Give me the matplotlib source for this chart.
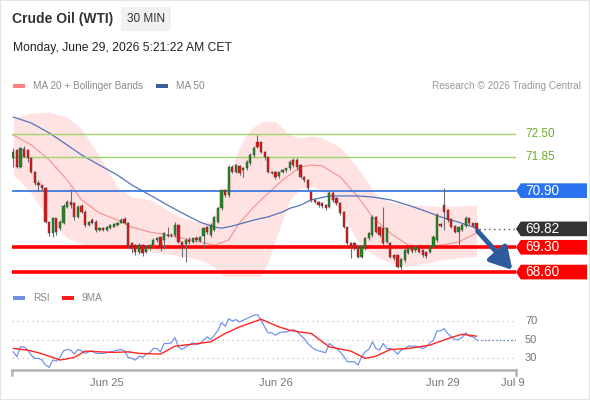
import numpy as np
import matplotlib.pyplot as plt
from matplotlib.patches import Polygon, Rectangle
from matplotlib.transforms import blended_transform_factory

plt.rcParams['font.family'] = ['Liberation Sans', 'DejaVu Sans']

# ---------------------------------------------------------------------------
# Crude Oil (WTI) 30 min bars
# ---------------------------------------------------------------------------
opens = [71.81, 72.05, 71.58, 72.07, 72.05, 71.81, 71.44, 71.11, 71.06, 70.97,
         70.02, 69.69, 70.12, 69.84, 69.98, 70.45, 70.59, 70.54, 70.16, 70.47,
         70.31, 69.93, 70.07, 70.02, 69.79, 69.84, 69.79, 69.84, 69.88, 69.93,
         70.00, 70.09, 69.98, 69.41, 69.36, 69.18, 69.36, 69.18, 69.27, 69.36,
         69.51, 69.60, 69.51, 69.65, 69.62, 69.65, 69.93, 69.46, 69.39, 69.51,
         69.46, 69.55, 69.48, 69.62, 69.88, 69.65, 69.79, 70.02, 70.40, 70.92,
         70.78, 71.58, 71.44, 71.60, 71.48, 71.53, 71.67, 71.91, 72.28, 72.28,
         72.00, 71.84, 71.44, 71.44, 71.30, 71.42, 71.48, 71.53, 71.77, 71.77,
         71.62, 71.29, 71.20, 70.87, 70.64, 70.59, 70.54, 70.49, 70.45, 70.82,
         70.68, 70.54, 70.31, 69.88, 69.41, 69.41, 69.32, 69.03, 69.27, 69.55,
         69.65, 70.16, 69.88, 69.84, 69.46, 69.41, 69.08, 69.08, 68.75, 68.94,
         69.13, 69.27, 69.22, 69.27, 69.22, 69.18, 69.18, 69.32, 69.51, 69.95,
         70.49, 70.35, 70.09, 69.90, 69.74, 69.79, 69.90, 70.14, 69.98, 69.98]
closes = [72.00, 71.58, 72.10, 71.86, 71.81, 71.44, 71.11, 71.06, 70.97, 70.02,
          69.69, 70.12, 69.74, 70.02, 70.47, 70.59, 70.49, 70.16, 70.45, 70.31,
          69.93, 70.02, 69.98, 69.79, 69.84, 69.79, 69.88, 69.93, 69.95, 70.00,
          70.07, 69.98, 69.32, 69.27, 69.18, 69.36, 69.13, 69.32, 69.36, 69.51,
          69.55, 69.27, 69.69, 69.62, 69.65, 69.93, 69.46, 69.27, 69.51, 69.46,
          69.55, 69.51, 69.60, 69.84, 69.72, 69.93, 70.16, 70.40, 70.92, 70.78,
          71.58, 71.44, 71.62, 71.39, 71.53, 71.72, 71.91, 72.10, 72.14, 72.00,
          71.84, 71.44, 71.41, 71.28, 71.42, 71.48, 71.53, 71.72, 71.62, 71.58,
          71.29, 71.20, 70.97, 70.64, 70.59, 70.49, 70.47, 70.40, 70.82, 70.64,
          70.54, 70.26, 69.88, 69.41, 69.32, 69.27, 69.03, 69.32, 69.55, 69.69,
          70.16, 69.74, 69.65, 69.41, 69.84, 69.03, 68.99, 68.75, 68.96, 69.22,
          69.27, 69.20, 69.32, 69.18, 69.08, 69.06, 69.32, 69.60, 70.21, 69.90,
          70.31, 70.07, 69.88, 69.74, 69.86, 69.93, 70.14, 69.98, 69.90, 69.82]
highs = [72.10, 72.08, 72.12, 72.15, 72.08, 71.84, 71.46, 71.20, 71.06, 70.99,
         70.05, 70.16, 70.14, 70.07, 70.52, 70.64, 70.95, 70.59, 70.49, 70.52,
         70.35, 70.05, 70.12, 70.07, 69.88, 69.86, 69.91, 69.95, 69.98, 70.02,
         70.12, 70.16, 70.02, 69.46, 69.39, 69.41, 69.39, 69.36, 69.39, 69.55,
         69.58, 69.62, 69.72, 69.88, 69.69, 70.02, 69.95, 69.48, 69.55, 69.58,
         69.58, 69.62, 69.62, 69.86, 69.91, 69.98, 70.19, 70.45, 70.95, 70.95,
         71.62, 71.62, 71.65, 71.62, 71.58, 71.77, 71.95, 72.15, 72.48, 72.31,
         72.02, 71.86, 71.46, 71.46, 71.44, 71.51, 71.55, 71.77, 71.81, 71.81,
         71.65, 71.32, 71.22, 70.90, 70.68, 70.62, 70.57, 70.52, 70.90, 70.90,
         70.73, 70.57, 70.33, 69.91, 69.44, 69.44, 69.36, 69.36, 69.58, 69.72,
         70.21, 70.19, 69.91, 70.45, 69.88, 69.44, 69.11, 69.11, 69.01, 69.27,
         69.30, 69.32, 69.36, 69.30, 69.25, 69.20, 69.36, 69.65, 70.26, 69.98,
         70.97, 70.38, 70.12, 69.93, 69.88, 69.98, 70.19, 70.16, 70.00, 70.00]
lows = [71.58, 71.53, 71.55, 71.84, 71.72, 71.40, 71.06, 70.90, 70.92, 69.98,
        69.62, 69.60, 69.65, 69.80, 69.95, 70.40, 70.40, 70.07, 70.12, 70.26,
        69.88, 69.90, 69.95, 69.74, 69.76, 69.76, 69.76, 69.81, 69.86, 69.91,
        69.98, 69.95, 69.27, 69.15, 69.08, 69.10, 69.06, 69.13, 69.22, 69.32,
        69.46, 69.20, 69.25, 69.58, 69.58, 69.60, 69.41, 69.03, 68.89, 69.39,
        69.41, 69.46, 69.44, 69.32, 69.67, 69.60, 69.76, 69.98, 70.35, 70.73,
        70.73, 71.40, 71.39, 71.34, 71.29, 71.48, 71.62, 71.86, 72.10, 71.95,
        71.77, 71.39, 71.36, 71.22, 71.25, 71.39, 71.44, 71.48, 71.58, 71.48,
        71.25, 71.15, 70.92, 70.59, 70.54, 70.45, 70.42, 70.35, 70.40, 70.59,
        70.49, 70.21, 69.84, 69.36, 68.99, 69.22, 68.99, 68.99, 69.22, 69.51,
        69.60, 69.69, 69.60, 69.36, 69.41, 68.99, 68.94, 68.71, 68.61, 68.89,
        69.10, 69.15, 69.18, 69.13, 69.03, 69.01, 69.13, 69.27, 69.46, 69.86,
        69.79, 70.02, 69.84, 69.69, 69.32, 69.76, 69.86, 69.93, 69.86, 69.79]

# indicator lines, sampled at bar positions
ma20_bar = [0, 5, 10, 15, 19, 24, 29, 33, 38, 43, 47, 52, 56, 60, 63, 67, 71, 75,
            80, 83, 86, 91, 96, 100, 105, 110, 114, 119, 124, 129]
ma20_val = [72.47, 72.19, 71.77, 71.20, 70.64, 70.27, 70.07, 69.87, 69.73, 69.65,
            69.56, 69.45, 69.36, 69.51, 69.99, 70.44, 70.83, 71.20, 71.57, 71.62,
            71.60, 71.29, 70.72, 70.16, 69.70, 69.36, 69.33, 69.36, 69.45, 69.70]
ma50_bar = [0, 5, 10, 15, 19, 24, 29, 33, 38, 43, 47, 52, 56, 58, 61, 67, 71, 75,
            77, 80, 83, 88, 96, 100, 105, 110, 114, 119, 124, 129]
ma50_val = [72.98, 72.81, 72.53, 72.19, 71.91, 71.62, 71.34, 71.06, 70.78, 70.49,
            70.27, 70.01, 69.87, 69.84, 69.90, 70.07, 70.16, 70.30, 70.40, 70.49,
            70.64, 70.75, 70.75, 70.72, 70.64, 70.49, 70.35, 70.16, 70.01, 69.84]
band_bar = [0, 5, 10, 15, 19, 24, 29, 33, 38, 43, 47, 52, 55, 57, 59, 61, 63, 65,
            67, 69, 71, 73, 75, 77, 80, 83, 86, 91, 96, 99, 101, 105, 110, 114,
            119, 124, 129]
band_upper = [72.95, 73.09, 73.12, 72.98, 72.64, 71.88, 71.00, 70.72, 70.64, 70.35,
              70.13, 69.99, 70.04, 70.47, 70.92, 71.62, 72.10, 72.50, 72.70, 72.84,
              72.87, 72.84, 72.67, 72.47, 72.39, 72.44, 72.39, 72.13, 71.54, 71.09,
              70.78, 70.58, 70.49, 70.49, 70.44, 70.47, 70.49]
band_lower = [71.34, 70.83, 70.07, 69.57, 69.39, 69.28, 69.31, 69.28, 69.17, 69.11,
              69.05, 68.94, 68.80, 68.66, 68.43, 68.23, 68.09, 68.09, 68.09, 68.52,
              68.88, 69.51, 70.07, 70.64, 70.97, 71.03, 70.89, 70.35, 69.45, 69.17,
              69.05, 68.86, 68.77, 68.83, 68.94, 69.00, 69.05]

resistances = [72.50, 71.85]
pivot = 70.90
supports = [69.30, 68.60]
last_price = 69.82

rsi = [36.7, 31.4, 42, 42, 38.5, 33, 29.6, 29.6, 27.8, 22.4,
       20, 27.8, 26.7, 30.6, 37.8, 39.2, 38.5, 34.2, 39.2, 37.8,
       35, 36.7, 37.8, 35, 35, 35, 35.7, 36.7, 37.5, 38.5,
       39.2, 37.8, 30.6, 29.6, 27.8, 32, 30.6, 34.2, 35.7, 40.3,
       40.3, 36.7, 45.7, 45.7, 46.4, 52.2, 42, 39.2, 42, 44,
       46.4, 44.6, 45.7, 49.3, 52.9, 50, 54.7, 60, 68.3, 64.3,
       72.6, 70, 71.5, 69, 70.8, 72.6, 74.4, 76.2, 76.9, 70.8,
       63.6, 57.2, 57.2, 54.7, 57.2, 58.2, 58.2, 59.3, 60.8, 58.5,
       54.7, 51, 45.7, 42, 39.2, 37.8, 36.7, 35.7, 45.7, 42.8,
       40.3, 36.7, 32, 26, 26, 26, 22.4, 31.4, 36.7, 39.2,
       47.5, 40.3, 38.5, 45.7, 40.3, 40.3, 38.5, 34.2, 38.5, 40.3,
       42.8, 42.8, 42.8, 42, 40.3, 42, 46.4, 49.3, 59.3, 59.3,
       61.8, 56.5, 52.9, 50, 50, 52.2, 57.2, 53.6, 52.9, 50]
rsi_ma9_bar = [0, 4, 7, 11, 13, 17, 20, 24, 28, 32, 35, 41, 45, 50, 55, 59, 63, 69,
               74, 77, 80, 83, 88, 94, 98, 101, 105, 110, 116, 121, 125, 129]
rsi_ma9_val = [40.3, 38.5, 35.7, 30.6, 27.8, 30.6, 37.5, 36.7, 36, 36.7, 35, 34.2,
               42.8, 45, 47.5, 56.5, 63.6, 71.9, 63.6, 60, 58, 56.5, 42, 37.5, 29.6,
               32, 39.2, 40.3, 43.9, 51, 55.7, 53.6]
rsi_levels = [30, 50, 70]

date_ticks = [26, 73, 119.7, 139.2]
date_labels = ["Jun 25", "Jun 26", "Jun 29", "Jul 9"]

# ---------------------------------------------------------------------------
W, H = 590.0, 400.0
X_LEFT, X_RIGHT = -0.36, 140.0


def fx(px):
    return px / W


def fy(py):
    return 1 - py / H


fig = plt.figure(figsize=(W / 100, H / 100), dpi=100)
fig.patches.append(Rectangle((0, 0), 1, 1, transform=fig.transFigure, fill=False,
                             ec='#e4e4e4', lw=1.5))

# header
fig.text(fx(12), fy(19), "Crude Oil (WTI)", fontsize=10, fontweight='bold',
         color='#333333', va='center')
fig.patches.append(Rectangle((fx(121), fy(31)), fx(50), 24 / H, transform=fig.transFigure,
                             fc='#f1f1f1', ec='none'))
fig.text(fx(146), fy(19), "30 MIN", fontsize=8.5, color='#333333', va='center', ha='center')
fig.text(fx(13), fy(48), "Monday, June 29, 2026 5:21:22 AM CET", fontsize=8.7,
         color='#222222', va='center')

# legends
def swatch(x, y, color):
    fig.patches.append(Rectangle((fx(x), fy(y + 2)), fx(12), 4 / H,
                                 transform=fig.transFigure, fc=color, ec='none'))

swatch(13, 86, '#ff8080')
fig.text(fx(33), fy(86), "MA 20 + Bollinger Bands", fontsize=7.2, color='#8a8a8a', va='center')
swatch(156, 86, '#3b5f9e')
fig.text(fx(176), fy(86), "MA 50", fontsize=7.2, color='#8a8a8a', va='center')
fig.text(fx(581), fy(86), "Research \u00a9 2026 Trading Central", fontsize=7.2,
         color='#9a9a9a', va='center', ha='right')
swatch(13, 298, '#6f8fe8')
fig.text(fx(33), fy(298), "RSI", fontsize=7.2, color='#8a8a8a', va='center')
swatch(62, 298, '#ff1a1a')
fig.text(fx(82), fy(298), "9MA", fontsize=7.2, color='#8a8a8a', va='center')

# ---------------------------------------------------------------------------
# price panel
ax = fig.add_axes([fx(12), fy(276), (516 - 12) / W, (276 - 112) / H])
ax.set_xlim(X_LEFT, X_RIGHT)
ax.set_ylim(68.489, 73.121)
ax.axis('off')

ax.fill_between(band_bar, band_lower, band_upper, color='#ffe2e2', lw=0, zorder=1)
ax.plot(ma20_bar, ma20_val, color='#f59090', lw=0.8, zorder=2)
ax.plot(ma50_bar, ma50_val, color='#5275bb', lw=0.9, zorder=2)

for r in resistances:
    ax.axhline(r, color='#9fd46a', lw=1.0, zorder=3)
ax.axhline(pivot, color='#2f6fe0', lw=1.2, zorder=3)
for s in supports:
    ax.axhline(s, color='#ff0000', lw=2.6, zorder=3)

bars = np.arange(len(closes))
o = np.array(opens)
c = np.array(closes)
up = c >= o
body_lo = np.minimum(o, c)
body_h = np.maximum(np.abs(c - o), 0.02)
ax.vlines(bars, lows, highs, color='#6e6e6e', lw=0.8, zorder=4)
ax.bar(bars[up], body_h[up], bottom=body_lo[up], width=0.62, color='#1f8a1f',
       edgecolor='#404040', lw=0.3, zorder=5)
ax.bar(bars[~up], body_h[~up], bottom=body_lo[~up], width=0.62, color='#e31414',
       edgecolor='#404040', lw=0.3, zorder=5)

# last price dotted line and expected move arrow
ax.plot([bars[-1] + 0.8, X_RIGHT], [last_price, last_price], color='#555555',
        lw=1.0, ls=(0, (1, 2.5)), zorder=3)
ax.annotate('', xy=(139.0, supports[1] + 0.06), xytext=(bars[-1] + 0.3, closes[-1] - 0.06),
            arrowprops=dict(arrowstyle='-|>,head_length=1.3,head_width=0.75',
                            color='#2d5b9c', lw=3.5, shrinkA=0, shrinkB=0,
                            mutation_scale=10), zorder=6)

# right hand level labels
trans = blended_transform_factory(ax.transAxes, ax.transData)
half = 0.207
tip, shoulder, right, text_x = 1.0, 1.0095, 1.1409, 1.0179


def level_box(y, color):
    ax.add_patch(Polygon([(tip, y), (shoulder, y + half), (right, y + half),
                          (right, y - half), (shoulder, y - half)], closed=True,
                         transform=trans, fc=color, ec='none', clip_on=False, zorder=6))
    ax.text(text_x, y, f"{y:.2f}", transform=trans, color='white', fontsize=9.8,
            va='center', ha='left', clip_on=False, zorder=7)


for r in resistances:
    ax.text(text_x, r, f"{r:.2f}", transform=trans, color='#6aae2a', fontsize=8.5,
            va='center', ha='left', clip_on=False)
level_box(pivot, '#2a72f0')
level_box(last_price, '#333333')
for s in supports:
    level_box(s, '#ff0000')

# ---------------------------------------------------------------------------
# RSI panel
rax = fig.add_axes([fx(12), fy(370), (516 - 12) / W, 60 / H])
rax.set_xlim(X_LEFT, X_RIGHT)
rax.set_ylim(17.03, 81.9)
for side in ['top', 'left', 'right']:
    rax.spines[side].set_visible(False)
rax.spines['bottom'].set_color('#b3b3b3')
rax.spines['bottom'].set_linewidth(1.8)
rax.set_yticks([])
rax.set_xticks(date_ticks)
rax.set_xticklabels(date_labels)
rax.tick_params(axis='x', length=0, pad=6, labelsize=8, labelcolor='#777777')
for end in [0, 1]:
    rax.plot([end, end], [0, -0.09], transform=rax.transAxes, color='#b3b3b3',
             lw=1.8, clip_on=False)

rtrans = blended_transform_factory(rax.transAxes, rax.transData)
for lv in rsi_levels:
    rax.axhline(lv, color='#bdbdbd', lw=0.9, ls=(0, (1, 3)))
    rax.text(text_x, lv, str(lv), transform=rtrans, color='#777777', fontsize=8,
             va='center', ha='left', clip_on=False)

rax.plot(bars, rsi, color='#7393ea', lw=0.9, zorder=3)
rax.plot(rsi_ma9_bar, rsi_ma9_val, color='#ff2424', lw=1.0, zorder=4)
rax.plot([bars[-1], X_RIGHT], [rsi[-1], rsi[-1]], color='#5470c8', lw=0.9,
         ls=(0, (1, 2)), zorder=3)

fig.savefig("out.png", dpi=100)
